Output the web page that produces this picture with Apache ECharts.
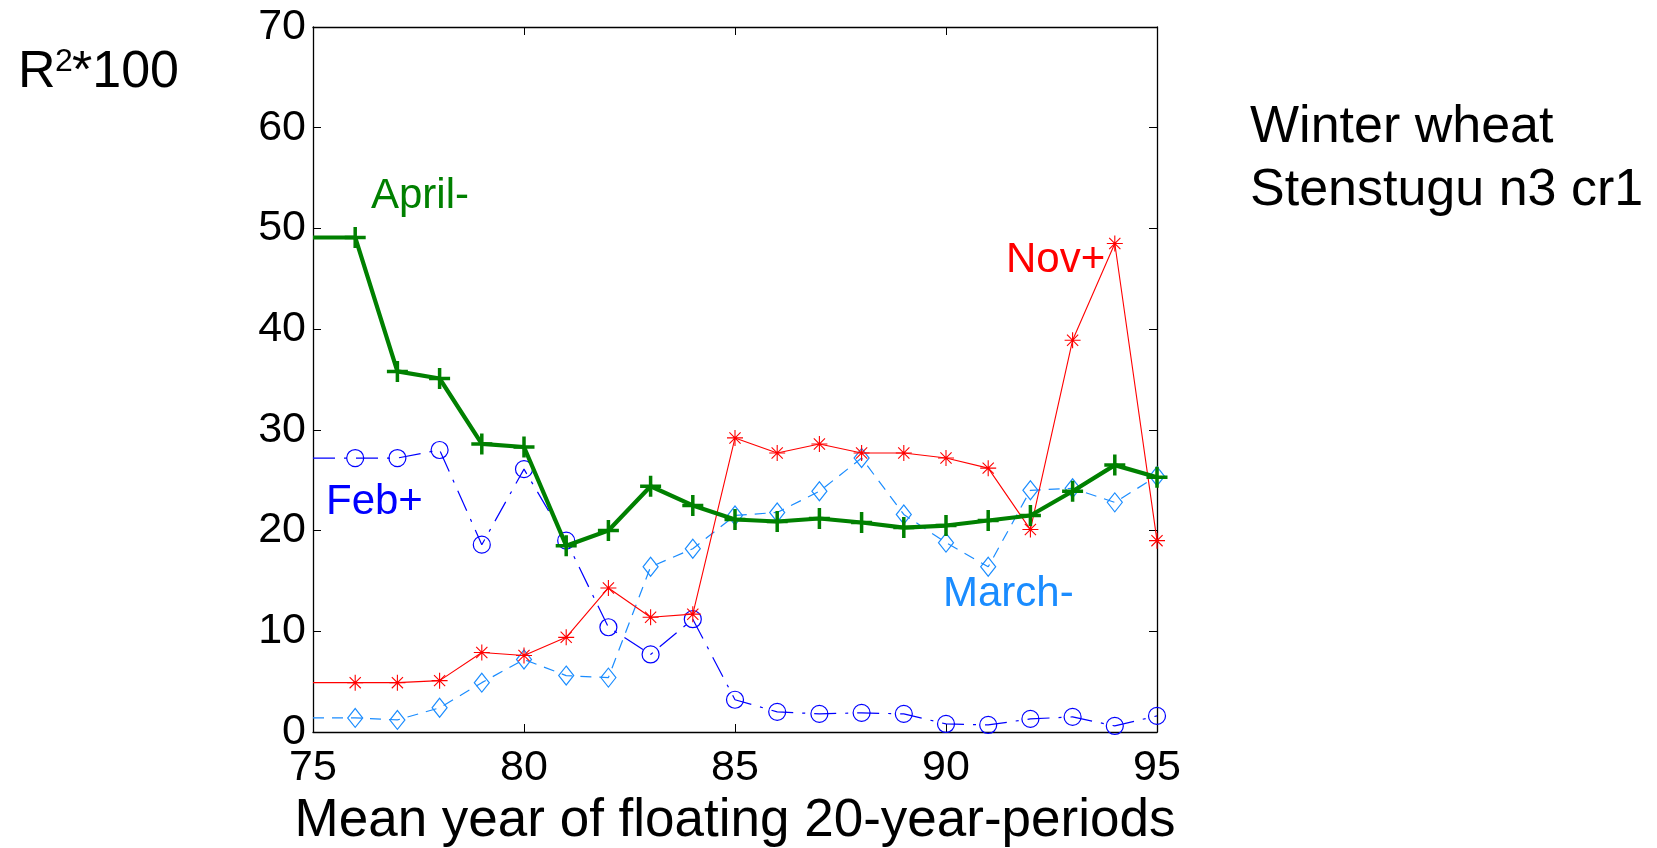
<!DOCTYPE html>
<html>
<head>
<meta charset="utf-8">
<script src="https://cdn.jsdelivr.net/npm/echarts@6/dist/echarts.min.js"></script>
<style>
html,body{margin:0;padding:0;background:#fff;}
#chart{width:1657px;height:848px;}
</style>
</head>
<body>
<div id="chart"></div>
<script>
// ---- data ----
var years = [75,76,77,78,79,80,81,82,83,84,85,86,87,88,89,90,91,92,93,94,95];
var aprilMinus = [49.1,49.1,35.8,35.1,28.6,28.3,18.5,20.0,24.4,22.5,21.1,20.9,21.2,20.8,20.3,20.5,21.0,21.5,23.9,26.5,25.3];
var febPlus    = [27.2,27.2,27.2,28.0,18.6,26.1,19.0,10.4,7.7,11.2,3.2,2.0,1.8,1.9,1.8,0.8,0.7,1.3,1.5,0.6,1.6];
var marchMinus = [1.4,1.4,1.2,2.4,4.9,7.2,5.6,5.4,16.4,18.2,21.5,21.8,23.9,27.2,21.6,18.8,16.4,24.0,24.2,22.8,25.4];
var novPlus    = [4.9,4.9,4.9,5.1,7.9,7.6,9.4,14.3,11.4,11.7,29.2,27.7,28.6,27.7,27.7,27.2,26.2,20.1,38.9,48.5,19.0];
var xTicks = [75,80,85,90,95];
var yTicks = [0,10,20,30,40,50,60,70];

function pairs(vals){
  return years.map(function(y,i){
    var d = {value:[y, vals[i]]};
    if (i === 0) d.symbolSize = 0; // first point lies on the axis edge, no marker
    return d;
  });
}

var FONT = 'Liberation Sans, Arial, Helvetica, sans-serif';
var plusPath = 'path://M0,-10L0,10M-10,0L10,0';
var starPath = 'path://M0,-10L0,10M-10,0L10,0M-7,-7L7,7M-7,7L7,-7';

var chart = echarts.init(document.getElementById('chart'), null, {renderer:'canvas'});
var option = {
  animation:false,
  backgroundColor:'#ffffff',
  grid:{left:313, top:27, width:844, height:705, containLabel:false, outerBoundsMode:'none'},
  xAxis:[{
    type:'value', min:75, max:95, interval:5,
    axisLine:{onZero:false, lineStyle:{color:'#000', width:1.3}},
    axisTick:{inside:true, length:8, lineStyle:{color:'#000', width:1}},
    axisLabel:{fontFamily:FONT, fontSize:43, color:'#000', margin:15,
      formatter:function(v){return xTicks.indexOf(v)>=0 ? String(v) : '';}},
    splitLine:{show:false},
    name:'Mean year of floating 20-year-periods',
    nameLocation:'middle', nameGap:62,
    nameTextStyle:{fontFamily:FONT, fontSize:53, color:'#000'}
  },{
    type:'value', position:'top', min:75, max:95, interval:5,
    axisLine:{onZero:false, lineStyle:{color:'#000', width:1.3}},
    axisTick:{inside:true, length:8, lineStyle:{color:'#000', width:1}},
    axisLabel:{show:false}, splitLine:{show:false}
  }],
  yAxis:[{
    type:'value', min:0, max:70, interval:10,
    axisLine:{show:true, onZero:false, lineStyle:{color:'#000', width:1.3}},
    axisTick:{show:true, inside:true, length:8, lineStyle:{color:'#000', width:1}},
    axisLabel:{fontFamily:FONT, fontSize:43, color:'#000', margin:7,
      formatter:function(v){return yTicks.indexOf(v)>=0 ? String(v) : '';}},
    splitLine:{show:false}
  },{
    type:'value', position:'right', min:0, max:70, interval:10,
    axisLine:{show:true, onZero:false, lineStyle:{color:'#000', width:1.3}},
    axisTick:{show:true, inside:true, length:8, lineStyle:{color:'#000', width:1}},
    axisLabel:{show:false}, splitLine:{show:false}
  }],
  series:[
    {
      name:'Feb+', type:'line', data:pairs(febPlus), clip:false,
      symbol:'circle', symbolSize:17,
      itemStyle:{color:'rgba(0,0,0,0)', borderColor:'#0000ff', borderWidth:1.2},
      lineStyle:{color:'#0000ff', width:1.2, type:[22,9,3,9]},
      z:2
    },
    {
      name:'March-', type:'line', data:pairs(marchMinus), clip:false,
      symbol:'diamond', symbolSize:[15,19],
      itemStyle:{color:'rgba(0,0,0,0)', borderColor:'#1a8cff', borderWidth:1.2},
      lineStyle:{color:'#1a8cff', width:1.2, type:[11,8]},
      z:3
    },
    {
      name:'Nov+', type:'line', data:pairs(novPlus), clip:false,
      symbol:starPath, symbolSize:16,
      itemStyle:{color:'rgba(0,0,0,0)', borderColor:'#ff0000', borderWidth:1.1},
      lineStyle:{color:'#ff0000', width:1.1},
      z:4
    },
    {
      name:'April-', type:'line', data:pairs(aprilMinus), clip:false,
      symbol:plusPath, symbolSize:21,
      itemStyle:{color:'rgba(0,0,0,0)', borderColor:'#008000', borderWidth:3.5},
      lineStyle:{color:'#008000', width:4.2},
      z:5
    }
  ],
  graphic:[
    {type:'text', left:18, top:47, style:{text:'R', font:'52px '+FONT, fill:'#000'}},
    {type:'text', left:55, top:46, style:{text:'2', font:'32px '+FONT, fill:'#000'}},
    {type:'text', left:72, top:47, style:{text:'*100', font:'52px '+FONT, fill:'#000'}},
    {type:'text', left:1250, top:102, style:{text:'Winter wheat', font:'52px '+FONT, fill:'#000'}},
    {type:'text', left:1250, top:165, style:{text:'Stenstugu n3 cr1', font:'52px '+FONT, fill:'#000'}},
    {type:'text', left:371, top:175, style:{text:'April-', font:'42px '+FONT, fill:'#008000'}},
    {type:'text', left:326, top:481, style:{text:'Feb+', font:'42px '+FONT, fill:'#0000ff'}},
    {type:'text', left:1006, top:239, style:{text:'Nov+', font:'42px '+FONT, fill:'#ff0000'}},
    {type:'text', left:943, top:573, style:{text:'March-', font:'42px '+FONT, fill:'#1a8cff'}}
  ]
};
chart.setOption(option);
</script>
</body>
</html>
